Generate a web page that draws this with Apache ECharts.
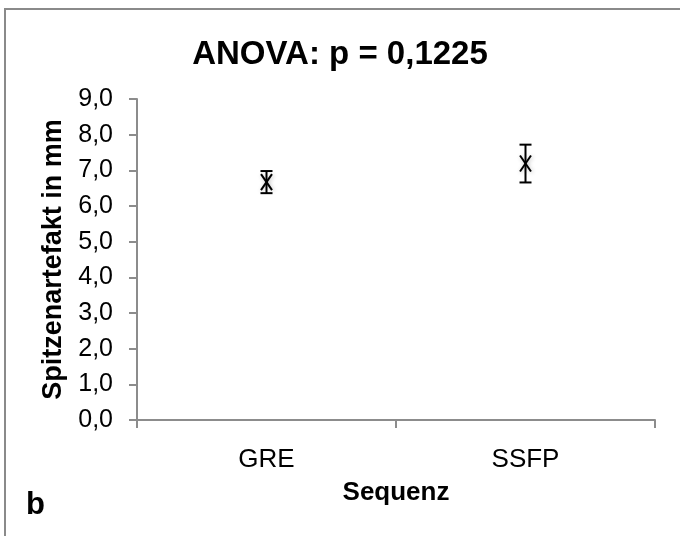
<!DOCTYPE html>
<html>
<head>
<meta charset="utf-8">
<script src="https://cdn.jsdelivr.net/npm/echarts@6/dist/echarts.min.js"></script>
<style>
  html, body { margin: 0; padding: 0; background: #fff; }
  #chart { width: 680px; height: 536px; }
</style>
</head>
<body>
<div id="chart"></div>
<script>
// Mean spike artefact per sequence with error bars
const categories = ['GRE', 'SSFP'];
const means = [6.67, 7.19];
const errors = [0.31, 0.53];
const yTicks = { min: 0, max: 9, step: 1 };

const FONT = '"Liberation Sans", Arial, sans-serif';
const AXIS_GRAY = '#8c8c8c';

const chart = echarts.init(document.getElementById('chart'));

const points = categories.map((c, i) => [i, means[i], means[i] - errors[i], means[i] + errors[i]]);

chart.setOption({
  animation: false,
  backgroundColor: '#fff',
  title: {
    text: 'ANOVA: p = 0,1225',
    left: 'center',
    top: 33,
    textStyle: { fontFamily: FONT, fontSize: 33, fontWeight: 'bold', color: '#000' }
  },
  graphic: [
    {
      type: 'rect',
      shape: { x: 5, y: 9, width: 720, height: 600 },
      style: { fill: 'none', stroke: '#8a8a8a', lineWidth: 2 },
      silent: true
    },
    {
      type: 'text',
      left: 26,
      top: 490,
      style: { text: 'b', font: 'bold 31px ' + FONT, fill: '#000' }
    }
  ],
  grid: { left: 137, right: 25, top: 99, bottom: 116, containLabel: false },
  xAxis: {
    type: 'category',
    data: categories,
    boundaryGap: true,
    name: 'Sequenz',
    nameLocation: 'middle',
    nameGap: 60,
    nameTextStyle: { fontFamily: FONT, fontSize: 26, fontWeight: 'bold', color: '#000' },
    axisLine: { lineStyle: { color: AXIS_GRAY, width: 2 } },
    axisTick: { show: true, length: 8, interval: 0, alignWithLabel: false, lineStyle: { color: AXIS_GRAY, width: 2 } },
    axisLabel: { fontFamily: FONT, fontSize: 26, color: '#000', margin: 27 },
    splitLine: { show: false }
  },
  yAxis: {
    type: 'value',
    min: yTicks.min,
    max: yTicks.max,
    interval: yTicks.step,
    name: 'Spitzenartefakt in mm',
    nameLocation: 'middle',
    nameGap: 69,
    nameTextStyle: { fontFamily: FONT, fontSize: 27, fontWeight: 'bold', color: '#000' },
    axisLine: { show: true, lineStyle: { color: AXIS_GRAY, width: 2 } },
    axisTick: { show: true, length: 8, lineStyle: { color: AXIS_GRAY, width: 2 } },
    axisLabel: {
      fontFamily: FONT, fontSize: 25, color: '#000', margin: 24,
      formatter: v => v.toFixed(1).replace('.', ',')
    },
    splitLine: { show: false }
  },
  series: [{
    type: 'custom',
    data: points,
    renderItem: function (params, api) {
      const x = api.value(0);
      const c = api.coord([x, api.value(1)]);
      const lo = api.coord([x, api.value(2)]);
      const hi = api.coord([x, api.value(3)]);
      const cap = 6, mx = 5.5, my = 8;
      const stroke = { stroke: '#000', lineWidth: 2 };
      // x-shaped marker with a faint soft shadow
      const marker = {
        stroke: '#000', lineWidth: 2,
        shadowBlur: 4, shadowColor: 'rgba(0,0,0,0.25)', shadowOffsetX: 1, shadowOffsetY: 1
      };
      return {
        type: 'group',
        children: [
          { type: 'line', shape: { x1: c[0], y1: hi[1], x2: c[0], y2: lo[1] }, style: stroke },
          { type: 'line', shape: { x1: c[0] - cap, y1: hi[1], x2: c[0] + cap, y2: hi[1] }, style: stroke },
          { type: 'line', shape: { x1: c[0] - cap, y1: lo[1], x2: c[0] + cap, y2: lo[1] }, style: stroke },
          { type: 'line', shape: { x1: c[0] - mx, y1: c[1] - my, x2: c[0] + mx, y2: c[1] + my }, style: marker },
          { type: 'line', shape: { x1: c[0] - mx, y1: c[1] + my, x2: c[0] + mx, y2: c[1] - my }, style: marker }
        ]
      };
    }
  }]
});
</script>
</body>
</html>
